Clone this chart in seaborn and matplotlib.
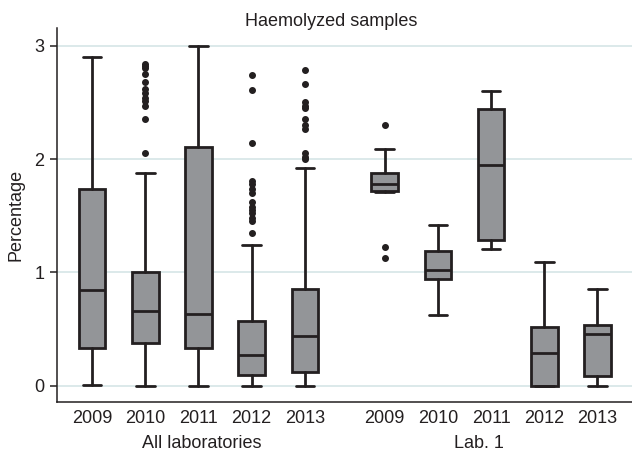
import numpy as np
import matplotlib
matplotlib.use("Agg")
import matplotlib.pyplot as plt
import matplotlib.transforms as mtransforms
import seaborn as sns

years = ["2009", "2010", "2011", "2012", "2013"]
groups = ["All laboratories", "Lab. 1"]

# five-number summaries
all_low = [0.01, 0.0, 0.0, 0.0, 0.0]
all_q1 = [0.335, 0.377, 0.335, 0.094, 0.12]
all_med = [0.845, 0.66, 0.635, 0.27, 0.438]
all_q3 = [1.74, 1.0, 2.11, 0.574, 0.853]
all_high = [2.90, 1.877, 3.0, 1.245, 1.924]
all_fliers = [
    [],
    [2.05, 2.35, 2.47, 2.51, 2.54, 2.58, 2.62, 2.68, 2.75, 2.80, 2.82, 2.84],
    [],
    [1.35, 1.45, 1.48, 1.52, 1.55, 1.58, 1.62, 1.70, 1.74, 1.78, 1.81, 2.14, 2.61, 2.74],
    [2.0, 2.02, 2.05, 2.27, 2.30, 2.35, 2.45, 2.47, 2.50, 2.66, 2.79],
]

lab_low = [1.71, 0.624, 1.21, 0.0, 0.0]
lab_q1 = [1.72, 0.94, 1.286, 0.0, 0.088]
lab_med = [1.777, 1.024, 1.95, 0.289, 0.459]
lab_q3 = [1.88, 1.19, 2.44, 0.518, 0.536]
lab_high = [2.09, 1.418, 2.60, 1.092, 0.853]
lab_fliers = [[1.13, 1.22, 2.30], [], [], [], []]

ink = "#231f20"
fill = "#939598"
grid = "#dce9ea"

sns.set_style("white")
plt.rcParams["font.family"] = ["Liberation Sans", "DejaVu Sans"]


def make_stats(low, q1, med, q3, high, fliers):
    return [
        dict(whislo=low[i], q1=q1[i], med=med[i], q3=q3[i], whishi=high[i],
             fliers=np.array(fliers[i]))
        for i in range(len(med))
    ]


stats = make_stats(all_low, all_q1, all_med, all_q3, all_high, all_fliers)
stats += make_stats(lab_low, lab_q1, lab_med, lab_q3, lab_high, lab_fliers)
positions = list(np.arange(5)) + list(np.arange(5) + 5.5)

fig = plt.figure(figsize=(6.32, 4.54), dpi=100)
ax = fig.add_axes([0.0902, 0.1145, 0.9098, 0.8238])

ax.bxp(
    stats, positions=positions, widths=0.5, capwidths=0.35,
    patch_artist=True, manage_ticks=False,
    boxprops=dict(facecolor=fill, edgecolor=ink, linewidth=2),
    whiskerprops=dict(color=ink, linewidth=2),
    capprops=dict(color=ink, linewidth=2),
    medianprops=dict(color=ink, linewidth=2),
    flierprops=dict(marker="o", markerfacecolor=ink, markeredgecolor=ink,
                    markersize=4, linestyle="none"),
)

ax.set_xlim(-0.658, 10.15)
ax.set_ylim(-0.144, 3.157)
ax.set_yticks([0, 1, 2, 3])
ax.set_xticks(positions)
ax.set_xticklabels(years * 2)
ax.yaxis.grid(True, color=grid, linewidth=1.4)
ax.set_axisbelow(True)

sns.despine(ax=ax)
for side in ["left", "bottom"]:
    ax.spines[side].set_color(ink)
    ax.spines[side].set_linewidth(1.1)

ax.tick_params(axis="y", length=5, width=1.1, color=ink, labelcolor=ink,
               labelsize=13, pad=4, left=True)
ax.tick_params(axis="x", length=0, labelcolor=ink, labelsize=13, pad=6)
ax.set_ylabel("Percentage", fontsize=13, color=ink, labelpad=7)

trans = mtransforms.blended_transform_factory(ax.transData, ax.transAxes)
ax.text(2.07, -0.11, groups[0], transform=trans, ha="center", va="center",
        fontsize=13, color=ink)
ax.text(7.27, -0.11, groups[1], transform=trans, ha="center", va="center",
        fontsize=13, color=ink)

fig.text(331 / 632, 1 - 21 / 454, "Haemolyzed samples", ha="center",
         va="center", fontsize=13, color=ink)

fig.savefig("out.png", dpi=100)
